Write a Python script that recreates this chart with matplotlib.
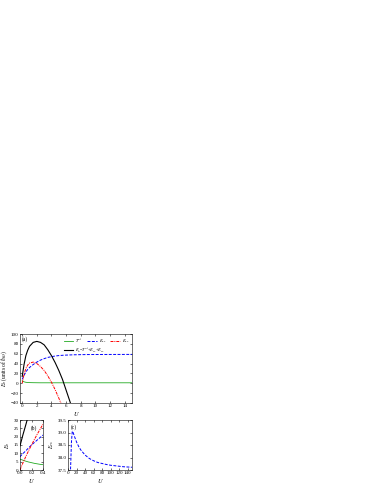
import matplotlib
matplotlib.use("Agg")
import matplotlib.pyplot as plt

plt.rcParams['font.family'] = ['Liberation Serif', 'DejaVu Serif']
plt.rcParams['mathtext.fontset'] = 'stix'

# Panel (a)
Ua = [0, 0.25, 0.5, 0.75, 1, 1.5, 2, 2.5, 3, 3.5, 4, 4.5, 5, 5.5, 6, 6.5, 7, 8, 9, 10, 12, 15]
T_a = [5, 3, 2, 1.6, 1.4, 1.2, 1.1, 1.0, 1.0, 1.0, 1.0, 1.0, 1.0, 1.0, 1.0, 1.0, 1.0, 1.0, 1.0, 1.0, 1.0, 1.0]
Eex_a = [8, 16, 23, 28, 32, 38, 43, 47, 50, 52.5, 54, 55.3, 56.2, 56.8, 57.2, 57.5, 57.8, 58.1, 58.3, 58.4, 58.5, 58.6]
Eee_a = [0, 18, 30, 37, 41, 43, 40, 34, 26, 15, 2, -13, -30, -48, -68, -90, -112, -160, -210, -260, -370, -540]
Eb_a = [14, 38, 56, 67, 75, 83, 85, 83, 78, 68, 56, 42, 26, 8, -14, -36, -58, -100, -150, -200, -310, -480]

# Panel (b)
Ub = [0, 0.05, 0.1, 0.15, 0.2, 0.25, 0.3, 0.35, 0.4]
T_b = [6.5, 5.9, 5.3, 4.8, 4.4, 4.0, 3.7, 3.4, 3.2]
Eex_b = [8, 9.8, 11.5, 13.3, 15, 16.5, 18, 19.5, 21]
Eee_b = [0, 4.2, 8, 11.6, 15, 18.3, 21.5, 24.5, 27.5]
Ub_black = [0, 0.05, 0.1, 0.14]
Eb_b = [14.5, 21, 27, 32]

# Panel (c)
Uc = [5, 8, 10, 12, 15, 20, 25, 30, 40, 50, 60, 70, 80, 90, 100, 110, 120, 130, 140, 150]
Eex_c = [37.0, 38.6, 39.05, 39.0, 38.85, 38.62, 38.44, 38.3, 38.1, 37.96, 37.87, 37.8, 37.76, 37.72, 37.69, 37.67, 37.65, 37.63, 37.62, 37.61]

green = '#22aa22'
blue = '#0000ff'
red = '#ff0000'

fig = plt.figure(figsize=(3.74, 4.84), dpi=100)
fs = 3.6

def style(ax):
    ax.tick_params(direction='in', top=True, right=True, labelsize=fs, length=1.5, width=0.4, pad=1)
    ax.tick_params(which='minor', direction='in', top=True, right=True, length=0.8, width=0.3)
    for s in ax.spines.values():
        s.set_linewidth(0.4)

# (a)
axa = fig.add_axes([20/374, 1-403/484, 112/374, 69/484])
l1, = axa.plot(Ua, T_a, color=green, lw=0.6, label=r'$T^{nl}$')
l2, = axa.plot(Ua, Eex_a, color=blue, lw=0.7, ls=(0, (3, 1.5)), label=r'$E_{ex}$')
l3, = axa.plot(Ua, Eee_a, color=red, lw=0.7, ls=(0, (3, 1, 1, 1)), label=r'$E_{ee}$')
l4, = axa.plot(Ua, Eb_a, color='black', lw=0.8, label=r'$E_b$=$T^{nl}$+$E_{ex}$+$E_{ee}$')
axa.set_xlim(-0.3, 15)
axa.set_ylim(-40, 100)
axa.set_xticks(range(0, 15, 2))
axa.set_yticks(range(-40, 101, 20))
axa.set_xlabel(r'$U$', fontsize=4.5, labelpad=1)
axa.set_ylabel(r'$E_b$ (units of $\hbar\omega$)', fontsize=4, labelpad=1)
axa.text(0.02, 0.9, '(a)', transform=axa.transAxes, fontsize=4)
style(axa)
leg1 = axa.legend([l1, l2, l3], [l1.get_label(), l2.get_label(), l3.get_label()],
                  ncol=3, loc='center left', fontsize=3.2, frameon=False,
                  handlelength=2.2, columnspacing=1.0, borderaxespad=0, borderpad=0,
                  bbox_to_anchor=(0.39, 0.9), handletextpad=0.4)
axa.add_artist(leg1)
axa.legend([l4], [l4.get_label()], loc='center left', fontsize=3.2, frameon=False,
           handlelength=2.2, borderaxespad=0, borderpad=0,
           bbox_to_anchor=(0.39, 0.77), handletextpad=0.4)

# (b)
axb = fig.add_axes([20/374, 1-470/484, 23/374, 50/484])
axb.plot(Ub, T_b, color=green, lw=0.6)
axb.plot(Ub, Eex_b, color=blue, lw=0.7, ls=(0, (3, 1.5)))
axb.plot(Ub, Eee_b, color=red, lw=0.7, ls=(0, (3, 1, 1, 1)))
axb.plot(Ub_black, Eb_b, color='black', lw=0.8)
axb.set_xlim(0, 0.4)
axb.set_ylim(0, 30)
axb.set_xticks([0, 0.2, 0.4])
axb.set_xticklabels(['0.0', '0.2', '0.4'])
axb.set_yticks(range(0, 31, 5))
axb.set_xlabel(r'$U$', fontsize=4.5, labelpad=1)
axb.set_ylabel(r'$E_b$', fontsize=4, labelpad=1)
axb.text(0.45, 0.8, '(b)', transform=axb.transAxes, fontsize=4)
style(axb)

# (c)
axc = fig.add_axes([68/374, 1-470/484, 64/374, 50/484])
axc.plot(Uc, Eex_c, color=blue, lw=0.7, ls=(0, (3, 1.5)))
axc.set_xlim(0, 150)
axc.set_ylim(37.5, 39.5)
axc.set_xticks(range(0, 141, 20))
axc.set_yticks([37.5, 38.0, 38.5, 39.0, 39.5])
axc.set_yticklabels(['37.5', '38.0', '38.5', '39.0', '39.5'])
axc.set_xlabel(r'$U$', fontsize=4.5, labelpad=1)
axc.set_ylabel(r'$E_{ex}$', fontsize=4, labelpad=1)
axc.text(0.05, 0.82, '(c)', transform=axc.transAxes, fontsize=4)
style(axc)

fig.savefig('out.png', dpi=100)
